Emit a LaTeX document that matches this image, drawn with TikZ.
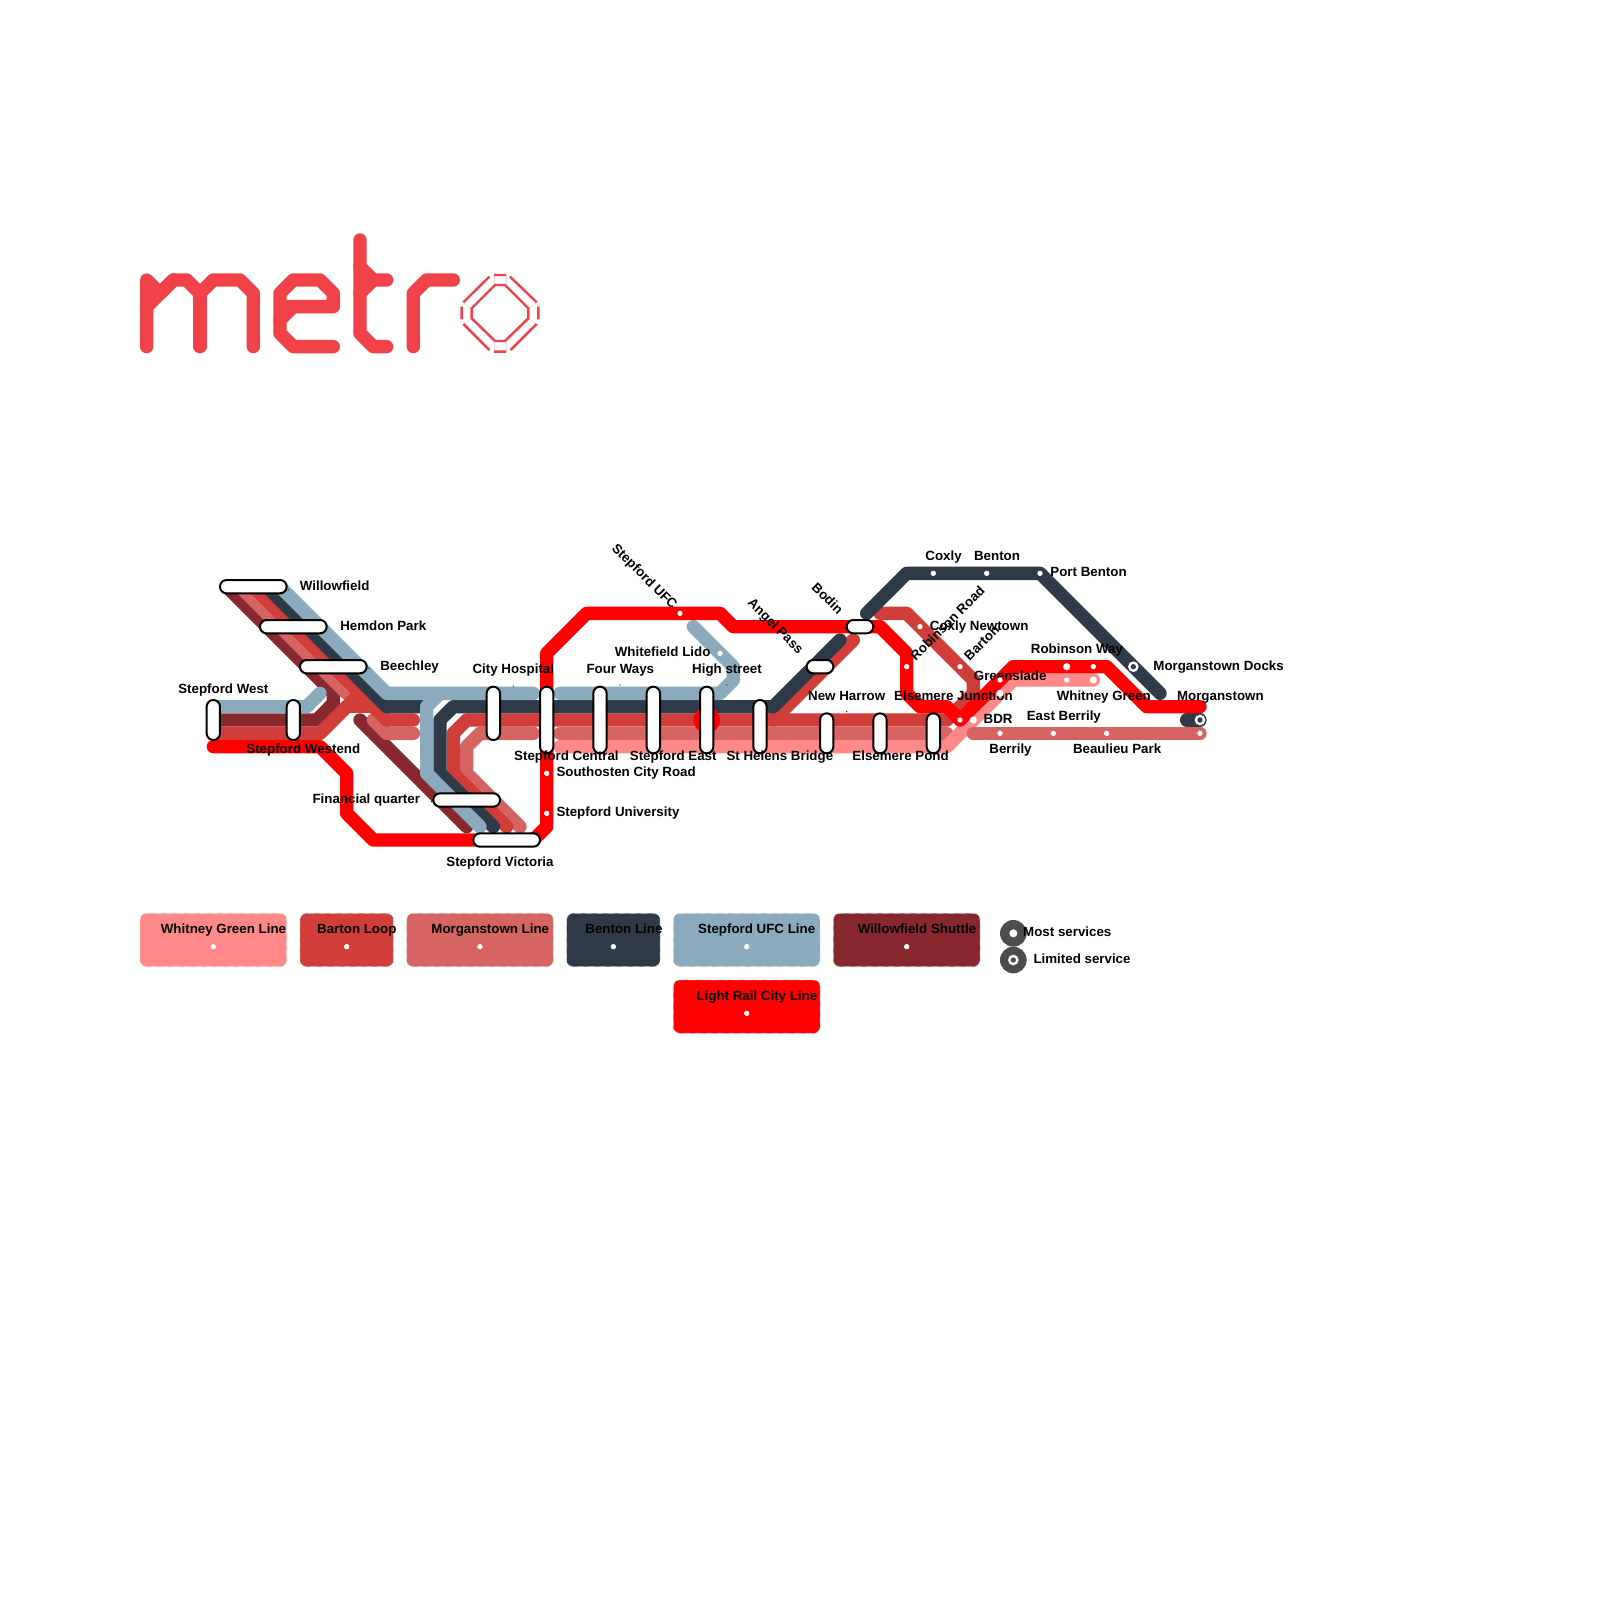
\documentclass[tikz,border=0pt]{standalone}
\usepackage{fontspec}
\setmainfont{Liberation Sans}
\definecolor{whitneyc}{HTML}{FF8888}
\definecolor{bartonc}{HTML}{D13D38}
\definecolor{morganc}{HTML}{D56462}
\definecolor{bentonc}{HTML}{2E3A47}
\definecolor{ufcc}{HTML}{8BAABD}
\definecolor{shuttlec}{HTML}{86282E}
\definecolor{railc}{HTML}{FF0000}
\definecolor{logoc}{HTML}{F14149}
\definecolor{keyc}{HTML}{4D4D4D}
\tikzset{
  route/.style={line width=13.33pt,line cap=round,line join=round,draw=#1},
  pill/.style={draw=black,fill=white,line width=2pt,rounded corners=6.6pt,inner sep=0pt,outer sep=0pt},
  lab/.style={anchor=base west,inner sep=0pt,font=\fontsize{13.33}{16}\selectfont\bfseries,text=black},
  rotlab/.style={anchor=center,inner sep=0pt,font=\fontsize{13.33}{16}\selectfont\bfseries,text=black},
  keybox/.style={rounded corners=6.5pt,fill=#1},
  keyedge/.style={rounded corners=6.5pt,draw=white,draw opacity=.35,line width=.9pt,dash pattern=on 6pt off 5pt},
  logoline/.style={draw=logoc,line width=13.33pt,line cap=round,line join=round},
  logothin/.style={draw=logoc,line width=2.4pt,line cap=butt,line join=miter},
  logofaint/.style={draw=logoc,draw opacity=.22,line width=.6pt},
  dotsmall/.style={fill=white},
  speck/.style={fill=black}
}
\newcommand{\pl}[6][]{\node[pill,minimum width=#4pt,minimum height=#5pt,#1] (#6) at (#2,#3) {};}
\begin{document}
\begin{tikzpicture}[x=1pt,y=-1pt]
\useasboundingbox (0,0) rectangle (1600,1600);
\fill[white] (0,0) rectangle (1600,1600);

% logo
\begin{scope}[shift={(130,220)},x=.3333pt,y=-.3333pt]
  \fill[logoc] (50,180)--(90,220)--(50,260)--cycle;
  \fill[logoc] (450,300)--(490,260)--(450,260)--cycle;
  \draw[logoline] (50,380)--(50,180)--(90,220)--(130,180)--(170,180)--(210,220)--(250,180)--(330,180)--(370,220)--(370,380);
  \draw[logoline] (210,220)--(210,380);
  \draw[logoline] (50,260)--(130,180);
  \draw[logoline] (610,380)--(490,380)--(450,340)--(450,220)--(490,180)--(570,180)--(610,220)--(610,260)--(450,260);
  \draw[logoline] (450,300)--(490,260);
  \draw[logoline] (690,60)--(690,340)--(730,380)--(770,380);
  \draw[logoline] (770,180)--(730,180)--(690,140);
  \draw[logoline] (730,180)--(690,220);
  \draw[logoline] (850,380)--(850,220)--(890,180)--(970,180);
\end{scope}
\begin{scope}[shift={(450,265)},x=.3333pt,y=-.3333pt]
  \draw[logofaint] (132,30)--(132,60) (168,30)--(168,60) (132,228)--(132,260) (168,228)--(168,260);
  \draw[logofaint] (235,130)--(262,112) (235,160)--(262,178) (65,130)--(38,112) (65,160)--(38,178);
  \draw[logofaint] (132,30)--(168,30) (132,260)--(168,260) (35,125)--(35,163) (265,125)--(265,163);
  \draw[logothin] (135,60)--(165,60)--(235,130)--(235,160)--(165,228)--(135,228)--(65,160)--(65,130)--cycle;
  \draw[logothin] (132,30)--(168,30) (180,35)--(260,112) (265,125)--(265,163) (260,177)--(182,255);
  \draw[logothin] (132,260)--(168,260) (118,255)--(40,177) (35,125)--(35,163) (40,112)--(118,35);
\end{scope}

% routes
\draw[route=shuttlec] (213.33,720)--(316.67,720)--(333.33,703.33)--(333.33,693.33)--(226.67,586.67);
\draw[route=shuttlec] (360,720)--(466.67,826.67);
\draw[route=morganc] (240,586.67)--(346.67,693.33);
\draw[route=morganc] (373.33,720)--(386.67,733.33)--(413.33,733.33);
\draw[route=morganc] (520,826.67)--(466.67,773.33)--(466.67,746.67)--(480,733.33)--(533.33,733.33);
\draw[route=morganc] (560,733.33)--(946.67,733.33);
\draw[route=bartonc] (253.33,586.67)--(386.67,720)--(413.33,720);
\draw[route=bartonc] (213.33,733.33)--(320,733.33)--(360,693.33);
\draw[route=bartonc] (346.67,706.67)--(373.33,706.67);
\draw[route=bartonc] (506.67,826.67)--(453.33,773.33)--(453.33,733.33)--(466.67,720)--(946.67,720)--(973.33,693.33)--(973.33,680)--(906.67,613.33)--(880,613.33);
\draw[route=bartonc] (773.33,720)--(853.33,640);
\draw[route=whitneyc] (560,746.67)--(946.67,746.67)--(1013.33,680)--(1093.33,680);
\draw[route=morganc] (973.33,733.33)--(1200,733.33);
\draw[route=bentonc] (266.67,586.67)--(386.67,706.67)--(426.67,706.67);
\draw[route=bentonc] (493.33,826.67)--(440,773.33)--(440,720)--(453.33,706.67)--(773.33,706.67)--(840,640);
\draw[route=bentonc] (866.67,613.33)--(906.67,573.33)--(1040,573.33)--(1160,693.33);
\draw[route=bentonc] (1186.67,720)--(1200,720);
\draw[route=ufcc] (213.33,706.67)--(306.67,706.67)--(320,693.33);
\draw[route=ufcc] (280,586.67)--(386.67,693.33)--(533.33,693.33);
\draw[route=ufcc] (440,693.33)--(426.67,706.67)--(426.67,773.33)--(480,826.67);
\draw[route=ufcc] (560,693.33)--(720,693.33)--(733.33,680)--(733.33,666.67)--(693.33,626.67);
\draw[route=railc] (213.33,746.67)--(320,746.67)--(346.67,773.33)--(346.67,813.33)--(373.33,840)--(533.33,840)--(546.67,826.67)--(546.67,653.33)--(586.67,613.33)--(720,613.33)--(733.33,626.67)--(880,626.67)--(906.67,653.33)--(906.67,693.33)--(920,706.67)--(946.67,706.67)--(960,720)--(1013.33,666.67)--(1106.67,666.67)--(1146.67,706.67)--(1200,706.67);
\fill[railc] (706.67,720) circle (13.33pt);

% interchange stations
\pl{213.33}{720}{13.33}{40}{sWest}
\pl{293.33}{720}{13.33}{40}{sWestend}
\pl{253.33}{586.67}{66.67}{13.33}{sWillow}
\pl{293.33}{626.67}{66.67}{13.33}{sHemdon}
\pl{333.33}{666.67}{66.67}{13.33}{sBeech}
\pl{466.67}{800}{66.67}{13.33}{sFinancial}
\pl{506.67}{840}{66.67}{13.33}{sVictoria}
\pl{493.33}{713.33}{13.33}{53.33}{sHospital}
\pl{546.67}{720}{13.33}{66.67}{sCentral}
\pl{600}{720}{13.33}{66.67}{sFour}
\pl{653.33}{720}{13.33}{66.67}{sEast}
\pl{706.67}{720}{13.33}{66.67}{sHigh}
\pl{760}{726.67}{13.33}{53.33}{sHelens}
\pl{826.67}{733.33}{13.33}{40}{sHarrow}
\pl{880}{733.33}{13.33}{40}{sPond}
\pl{933.33}{733.33}{13.33}{40}{sJunction}
\pl{820}{666.67}{26.67}{13.33}{sAngel}
\pl{860}{626.67}{26.67}{13.33}{sBodin}

% specks
\foreach \px/\py in {620/685,726.67/685,513.33/686,846.67/711.67,953.33/711.67,845/628.33,431.67/801.67,471.67/842.67,369/668.33,288.33/590}
  \fill[speck] (\px,\py) circle (.65pt);

% labels
\node[lab] (t1) at (299.7,590) {Willowfield};
\node[lab] (t2) at (340.1,630) {Hemdon Park};
\node[lab] (t3) at (380.1,670) {Beechley};
\node[lab] (t4) at (472.4,673.33) {City Hospital};
\node[lab] (t5) at (178.1,693.33) {Stepford West};
\node[lab] (t6) at (246.2,753.33) {Stepford Westend};
\node[lab] (t7) at (312.4,803.33) {Financial quarter};
\node[lab] (t8) at (446.2,866.67) {Stepford Victoria};
\node[lab] (t9) at (514,760) {Stepford Central};
\node[lab] (t10) at (586.3,673.33) {Four Ways};
\node[lab] (t11) at (614.7,656.67) {Whitefield Lido};
\node[lab] (t12) at (692,673.33) {High street};
\node[lab] (t13) at (556.3,776.67) {Southosten City Road};
\node[lab] (t14) at (556.3,816.67) {Stepford University};
\node[lab] (t15) at (629.7,760) {Stepford East};
\node[lab] (t16) at (726.3,760) {St Helens Bridge};
\node[lab] (t17) at (808,700) {New Harrow};
\node[lab] (t18) at (852.2,760) {Elsemere Pond};
\node[lab] (t19) at (894,700) {Elsemere Junction};
\node[lab] (t20) at (925.2,560) {Coxly};
\node[lab] (t21) at (973.9,560) {Benton};
\node[lab] (t22) at (1050.2,576.67) {Port Benton};
\node[lab] (t23) at (929.7,630) {Coxly Newtown};
\node[lab] (t24) at (1030.7,653.33) {Robinson Way};
\node[lab] (t25) at (973.7,680) {Greenslade};
\node[lab] (t26) at (1153.2,670) {Morganstown Docks};
\node[lab] (t27) at (1056.6,700) {Whitney Green};
\node[lab] (t28) at (1176.8,700) {Morganstown};
\node[lab] (t29) at (1026.6,720) {East Berrily};
\node[lab] (t30) at (983.5,723.33) {BDR};
\node[lab] (t31) at (989.2,753.33) {Berrily};
\node[lab] (t32) at (1072.8,753.33) {Beaulieu Park};
\node[rotlab,rotate=-45] (r1) at (644,577) {Stepford UFC};
\node[rotlab,rotate=-45] (r2) at (775,626.67) {Angel Pass};
\node[rotlab,rotate=-45] (r3) at (827.7,598.33) {Bodin};
\node[rotlab,rotate=45] (r4) at (947.33,623.33) {Robinson Road};
\node[rotlab,rotate=45] (r5) at (981.7,642.67) {Barton};

% plain stops (they lie over the labels)
\foreach \px/\py in {546.67/773.33,546.67/813.33,680/613.33,720/653.33,933.33/573.33,986.67/573.33,1040/573.33,920/626.67,960/666.67,906.67/666.67,1000/680,960/720,1093.33/666.67,1066.67/680,1000/733.33,1053.33/733.33,1106.67/733.33,1200/733.33}
  \fill[dotsmall] (\px,\py) circle (2.67pt);
\foreach \px/\py in {1000/693.33,973.33/720,1066.67/666.67,1093.33/680}
  \fill[dotsmall] (\px,\py) circle (3.6pt);
\foreach \px/\py in {1133.33/666.67,1200/720}{
  \fill[white] (\px,\py) circle (5.33pt);
  \fill[bentonc] (\px,\py) circle (2.67pt);
}

% legend
\foreach \ax/\ay/\bx/\by/\c in {140/913.33/286.67/966.67/whitneyc,300/913.33/393.33/966.67/bartonc,406.67/913.33/553.33/966.67/morganc,566.67/913.33/660/966.67/bentonc,673.33/913.33/820/966.67/ufcc,833.33/913.33/980/966.67/shuttlec,673.33/980/820/1033.33/railc}{
  \fill[keybox=\c] (\ax,\ay) rectangle (\bx,\by);
  \draw[keyedge] (\ax,\ay) rectangle (\bx,\by);
}
\foreach \px/\py in {213.33/946.67,346.67/946.67,480/946.67,613.33/946.67,746.67/946.67,906.67/946.67,746.67/1013.33}
  \fill[dotsmall] (\px,\py) circle (2.67pt);
\node[lab] (k1) at (160.7,933.33) {Whitney Green Line};
\node[lab] (k2) at (317,933.33) {Barton Loop};
\node[lab] (k3) at (431.2,933.33) {Morganstown Line};
\node[lab] (k4) at (585.2,933.33) {Benton Line};
\node[lab] (k5) at (698,933.33) {Stepford UFC Line};
\node[lab] (k6) at (857.6,933.33) {Willowfield Shuttle};
\node[lab] (k7) at (696.3,1000) {Light Rail City Line};
\fill[keyc] (1013.33,933.33) circle (13.33pt);
\fill[white] (1013.33,933.33) circle (4pt);
\fill[keyc] (1013.33,960) circle (13.33pt);
\fill[white] (1013.33,960) circle (5.33pt);
\fill[keyc] (1013.33,960) circle (2.67pt);
\node[lab] (k8) at (1023,936.67) {Most services};
\node[lab] (k9) at (1033.3,963.33) {Limited service};
\end{tikzpicture}
\end{document}
